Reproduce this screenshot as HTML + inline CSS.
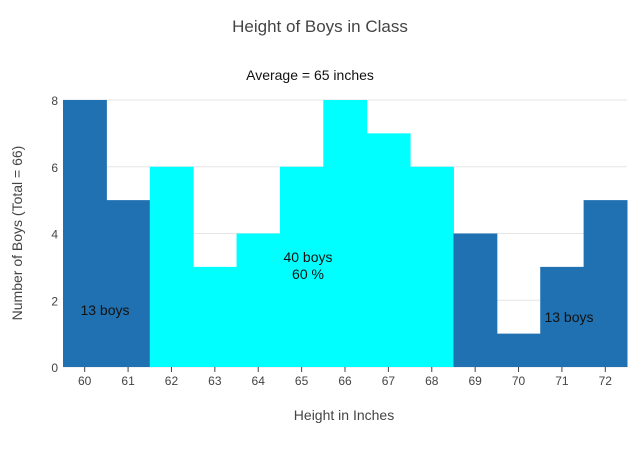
<!DOCTYPE html>
<html><head><meta charset="utf-8"><style>
body{margin:0;background:#fff;width:640px;height:450px;overflow:hidden;font-family:"Liberation Sans",sans-serif}
</style></head><body>
<svg width="640" height="450" id="chart">
<text x="320" y="32" text-anchor="middle" font-size="17" fill="#444">Height of Boys in Class</text>
<text x="310" y="80" text-anchor="middle" font-size="14" fill="#111">Average = 65 inches</text>
<text x="344" y="420" text-anchor="middle" font-size="14" fill="#444">Height in Inches</text>
<text transform="translate(22,233) rotate(-90)" text-anchor="middle" font-size="14" fill="#444">Number of Boys (Total = 66)</text>
<g id="grid"></g><g id="bars"></g><g id="ticks"></g>
<text x="105" y="315" text-anchor="middle" font-size="14" fill="#111">13 boys</text>
<text x="308" y="262" text-anchor="middle" font-size="14" fill="#111">40 boys</text>
<text x="308" y="279" text-anchor="middle" font-size="14" fill="#111">60 %</text>
<text x="569" y="322" text-anchor="middle" font-size="14" fill="#111">13 boys</text>
</svg>
<script>
const heights=[60,61,62,63,64,65,66,67,68,69,70,71,72];
const counts=[8,5,6,3,4,6,8,7,6,4,1,3,5];
const highlighted=[false,false,true,true,true,true,true,true,true,false,false,false,false];
const yTicks=[0,2,4,6,8];
const NS="http://www.w3.org/2000/svg";
const x0=63,x1=627,y0=367,y1=100;
const xs=v=>x0+(v-59.5)*(x1-x0)/13;
const ys=v=>y0-v*(y0-y1)/8;
const grid=document.getElementById('grid'),bars=document.getElementById('bars'),ticks=document.getElementById('ticks');
function mk(tag,attrs,parent){const e=document.createElementNS(NS,tag);for(const k in attrs)e.setAttribute(k,attrs[k]);parent.appendChild(e);return e;}
yTicks.forEach(t=>{
  const l=mk('line',{x1:x0,x2:x1,y1:ys(t),y2:ys(t),stroke:'#e6e6e6'},grid);
  
  
  const tx=mk('text',{x:x0-5,y:ys(t)+5,'text-anchor':'end','font-size':12,fill:'#444'},ticks);
  tx.textContent=t;
  
  
});
heights.forEach((h,i)=>{
  const r=mk('rect',{x:xs(h-0.5),y:ys(counts[i]),width:xs(h+0.5)-xs(h-0.5)+0.5,height:ys(0)-ys(counts[i]),fill:highlighted[i]?'#00ffff':'#2071b1'},bars);
  
  
  mk('line',{x1:xs(h),x2:xs(h),y1:y0,y2:y0+5,stroke:'#444'},ticks);
  const tx=mk('text',{x:xs(h),y:y0+18,'text-anchor':'middle','font-size':12,fill:'#444'},ticks);
  tx.textContent=h;
  
  
});
</script>
</body></html>
